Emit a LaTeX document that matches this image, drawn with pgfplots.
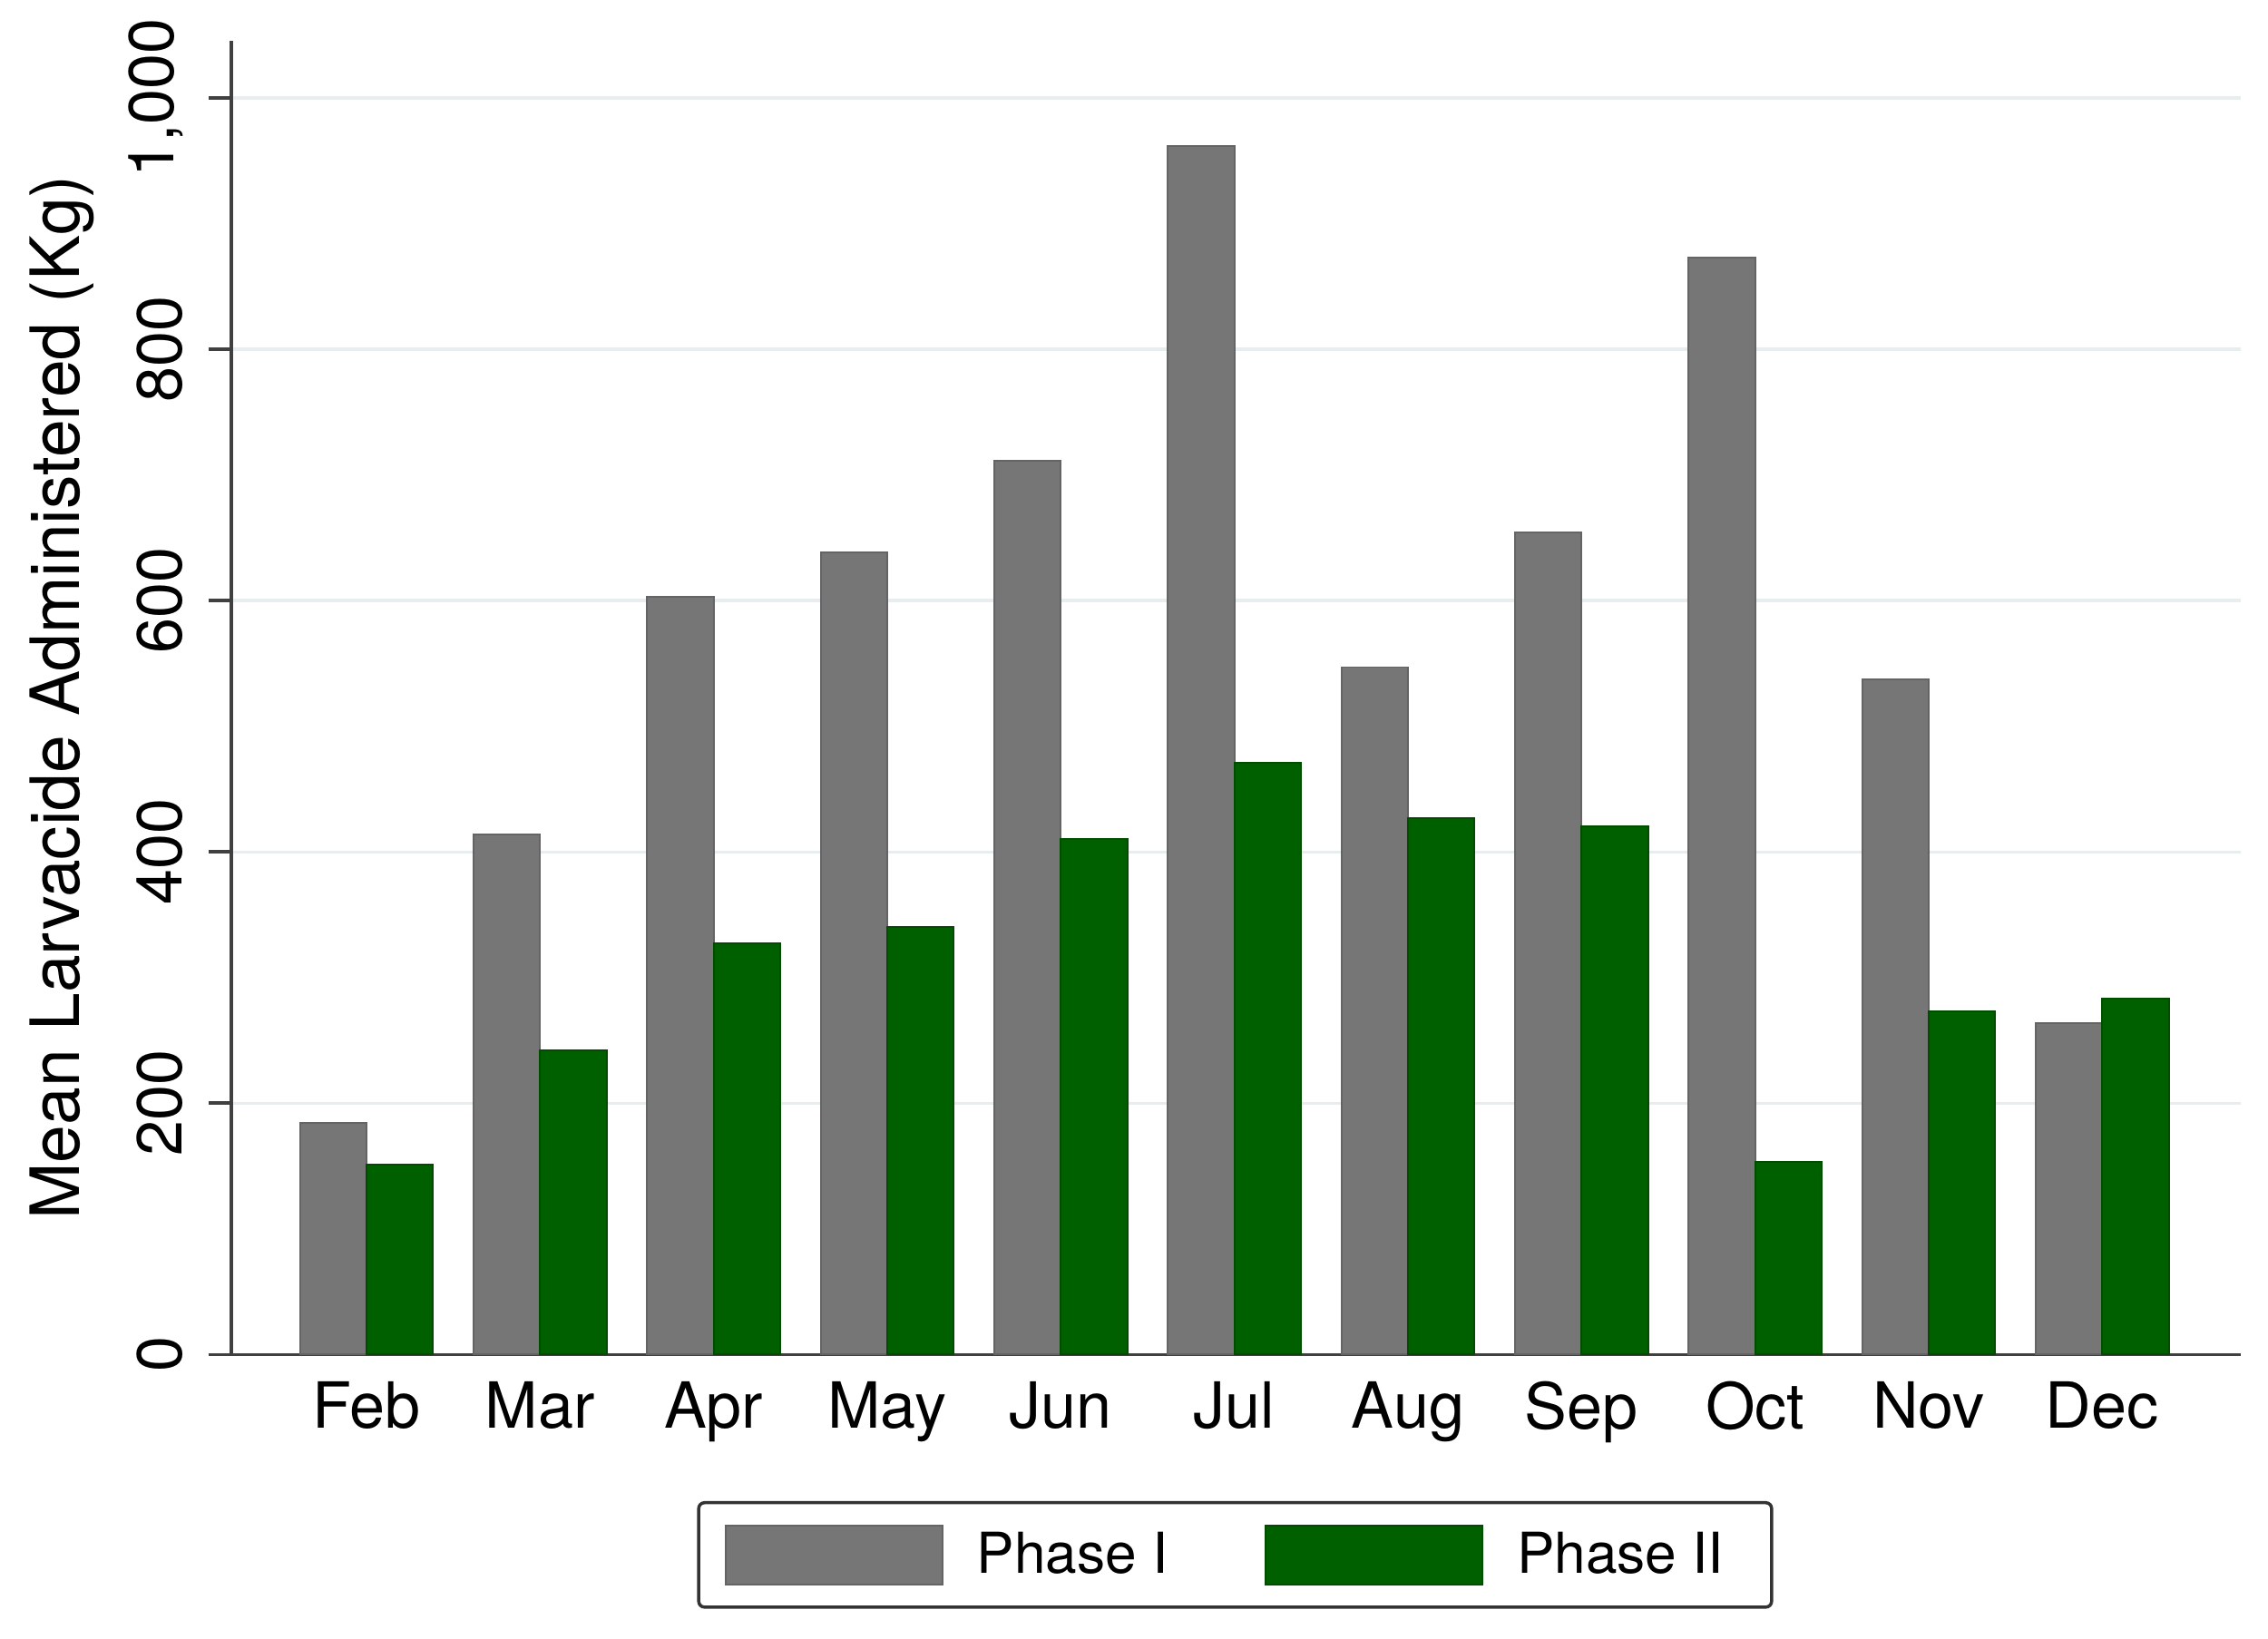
\documentclass[border=0pt]{standalone}
\usepackage{pgfplots}
\pgfplotsset{compat=1.18}
\usepackage{fontspec}
\setmainfont{TeX Gyre Heros}
\definecolor{barGrey}{RGB}{118,118,118}
\definecolor{barGreen}{RGB}{0,96,0}
\definecolor{gridc}{RGB}{232,238,240}
\pgfplotstableread{
x p1 p2
0 184 151
1 414 242
2 603 327
3 638 340
4 711 410
5 962 471
6 547 427
7 654 420
8 873 153
9 537 273
10 264 283
}\datatable
\begin{document}
\begin{tikzpicture}
\begin{axis}[name=ax,
  scale only axis, width=694.5pt, height=454.3pt,
  xmin=-0.778, xmax=10.797, ymin=0, ymax=1045.7,
  axis x line=bottom, axis y line=left,
  axis line style={-, line width=1.1pt, black!75},
  xtick=data,
  xticklabels={Feb,Mar,Apr,May,Jun,Jul,Aug,Sep,Oct,Nov,Dec},
  x tick style={draw=none},
  ytick={0,200,400,600,800,1000},
  y tick style={line width=1.1pt, black!75},
  tick align=outside, major tick length=8pt,
  /pgf/number format/assume math mode=true,
  /pgf/number format/1000 sep={,},
  yticklabel style={rotate=90, anchor=south, inner xsep=0pt, inner ysep=8.5pt, font=\fontsize{22}{24}\selectfont},
  xticklabel style={font=\fontsize{22}{24}\selectfont, inner sep=0pt, yshift=-1.2pt},
  ymajorgrids, grid style={gridc, line width=1pt},
  ylabel={Mean Larvacide Administered (Kg)},
  ylabel style={at={(axis description cs:-0.0842,0.5)}, anchor=center, font=\fontsize{23.5}{26}\selectfont},
  ybar, bar width=23pt,
  legend columns=2,
  legend style={at={(axis description cs:0.2318,-0.1116)}, anchor=north west,
    draw=black!80, line width=1.1pt, rounded corners=2pt, inner xsep=9pt, inner ysep=7.5pt,
    font=\fontsize{19.5}{22}\selectfont,
    nodes={inner sep=0pt, rounded corners=0pt},
    /tikz/every odd column/.append style={column sep=11.5pt},
    /tikz/every even column/.append style={column sep=33.5pt}},
  legend image code/.code={\fill[#1, rounded corners=0pt] (0pt,-10.25pt) rectangle (75pt,10.25pt);},
]
\addplot[fill=barGrey, draw=barGrey!85!black, line width=0.6pt, bar shift=-11.5pt] table[x=x,y=p1]{\datatable};
\addplot[fill=barGreen, draw=barGreen!80!black, line width=0.6pt, bar shift=11.5pt] table[x=x,y=p2]{\datatable};
\legend{Phase I, Phase II\hspace*{7.5pt}}
\end{axis}
\path ([xshift=-80pt,yshift=-98.2pt]ax.south west) rectangle ([xshift=9.5pt,yshift=14pt]ax.north east);
\end{tikzpicture}
\end{document}
